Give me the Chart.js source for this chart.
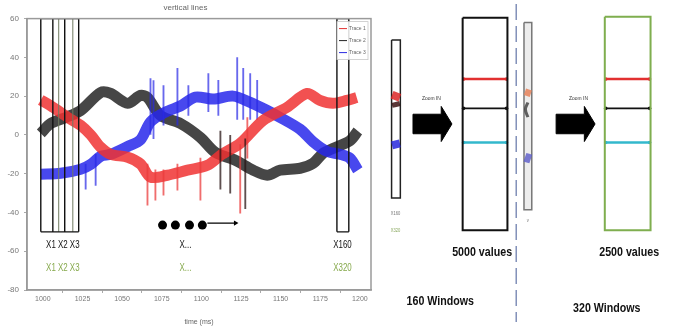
<!DOCTYPE html>
<html>
<head>
<meta charset="utf-8">
<script src="https://cdn.jsdelivr.net/npm/chart.js@4/dist/chart.umd.min.js"></script>
<style>
  html, body { margin: 0; padding: 0; background: #fff; }
  body { width: 675px; height: 326px; position: relative; overflow: hidden; }
  #mainChart { position: absolute; left: 0; top: 0; }
  #zoomChart { position: absolute; left: 372px; top: 0; }
</style>
</head>
<body>
<canvas id="mainChart" width="380" height="326"></canvas>
<canvas id="zoomChart" width="303" height="326"></canvas>
<script>
// Axis ticks
const xTicks = [1000, 1025, 1050, 1075, 1100, 1125, 1150, 1175, 1200];
const xTickLabels = ['1000', '1025', '1050', '1075', '1100', '1125', '1150', '1175', '1200'];
const yTicks = [60, 40, 20, 0, -20, -40, -60, -80];
const traceNames = ['Trace 1', 'Trace 2', 'Trace 3'];

// Trace centre lines: [time, amplitude]
const redTrace = [
    [998.7, 18], [1005, 15], [1011.3, 11.6], [1017.6, 8], [1023.9, 4.9], [1030.2, 0],
    [1036.5, -6.4], [1042.8, -10], [1053.5, -11.5], [1061.6, -15], [1067.9, -21.8],
    [1078.6, -20.8], [1091.2, -18.2], [1103.8, -15.7], [1113, -10], [1124.5, -4.3],
    [1139, 7.5], [1154, 14.2], [1166.7, 21.4], [1174.8, 17.8], [1183, 16.3],
    [1191.8, 17.8], [1198, 19.3]
];
const blackTrace = [
    [998.7, 0.8], [1005, 5.9], [1014.5, 9], [1023.9, 12.6], [1036.5, 21.9], [1042.8, 21.4],
    [1053.5, 16.3], [1061.6, 20.4], [1066, 19.3], [1074.2, 10], [1086.8, 5.9],
    [1099.4, -1.3], [1108.8, -9], [1121.4, -13.1], [1132.7, -18.2], [1141.5, -20.8],
    [1149.7, -18.2], [1162.3, -17.2], [1170.4, -14.7], [1176.7, -9.5], [1183, -7],
    [1193.7, -3], [1198.7, 2]
];
const blueTrace = [
    [998.7, -20.3], [1011.3, -19.8], [1023.9, -17.7], [1030.2, -15.2], [1036.5, -11],
    [1042.8, -10], [1053.5, -6], [1061.6, -2.5], [1067.9, 6.7], [1077.4, 11.8],
    [1086.8, 14.9], [1096.2, 19.5], [1107.5, 18.5], [1120.1, 20], [1130.8, 16.8],
    [1140.3, 13.1], [1149.7, 9], [1162.3, 2.9], [1170.4, -3.5], [1179.2, -8.5],
    [1187.4, -10], [1193.7, -12], [1198.7, -18.2]
];

// Noise spikes: [time, low, high]
const blueSpikes = [
    [1027, -28, -15], [1033.3, -26, -10], [1067.9, 0, 29.1], [1069.8, -2, 28],
    [1076.1, 5, 25.5], [1084.9, 5, 34.3], [1091.8, 10, 25.5], [1104.4, 12, 31.7],
    [1110.7, 10, 28.1], [1122.6, 8, 39.9], [1126.4, 8, 34.3], [1130.8, 8, 31.7],
    [1135.2, 8, 28.1]
];
const redSpikes = [
    [1066, -36.2, -15], [1071, -33.7, -18], [1076.1, -31.1, -18], [1084.9, -28.5, -15],
    [1099.4, -33.7, -12], [1124.5, -40.4, -5], [1129, -12, 9]
];
const blackSpikes = [
    [1112, -28, 2], [1118.2, -30, 0], [1127.7, -38, -2]
];

// Windows drawn on the trace plot
const windowTop = 60;
const windowBottom = -50;
const firstWindowEdges = [998.7, 1006.3, 1013.8, 1022.6];
const overlapEdges = [1010, 1018.9];
const lastWindowEdges = [1185.5, 1193];
const dotTimes = [1075.5, 1083.6, 1092.5, 1100.6];
const dotLevel = -46.5;
const arrowTimes = [1103.8, 1121.5];

const windowNotes = [
    { text: 'X1 X2 X3', x: 1012.6, y: -57, color: '#111' },
    { text: 'X...', x: 1090, y: -57, color: '#111' },
    { text: 'X160', x: 1189, y: -57, color: '#111' },
    { text: 'X1 X2 X3', x: 1012.6, y: -68.7, color: '#86a94c' },
    { text: 'X...', x: 1090, y: -68.7, color: '#86a94c' },
    { text: 'X320', x: 1189, y: -68.7, color: '#86a94c' }
];

// Zoom diagram (page pixel coordinates), [x1, y1, x2, y2]
const stripBoxes = [[388, 37, 397, 199], [524, 19, 532, 211]];
const valueBoxes = [[461, 14, 507, 232], [607, 13, 654, 232]];
const valueBoxColors = ['#111111', '#7fae4f'];
const levelRows = [77, 107, 142];
const levelColors = ['#e23030', '#111111', '#33b8cc'];
const arrowStarts = [410, 557];
const arrowCentre = 123;
const separatorX = 516;

const diagramNotes = [
    { text: 'Zoom IN', x: 429, y: 97, size: 6, color: '#333', bold: false },
    { text: 'Zoom IN', x: 580, y: 97, size: 6, color: '#333', bold: false },
    { text: '5000 values', x: 481, y: 255, size: 13, color: '#111', bold: true },
    { text: '2500 values', x: 632, y: 255, size: 13, color: '#111', bold: true },
    { text: '160 Windows', x: 438, y: 305, size: 13, color: '#111', bold: true },
    { text: '320 Windows', x: 609, y: 312, size: 13, color: '#111', bold: true },
    { text: 'X160', x: 392, y: 215, size: 5, color: '#777', bold: false },
    { text: 'X320', x: 392, y: 232, size: 5, color: '#8aa860', bold: false },
    { text: 'v', x: 528, y: 222, size: 5, color: '#777', bold: false }
];

const FONT = "'Liberation Sans', 'DejaVu Sans', sans-serif";

// squeezed text, the figure uses a narrow face
function narrowText(ctx, text, x, y, squeeze) {
    ctx.save();
    ctx.translate(x, y);
    ctx.scale(squeeze, 1);
    ctx.fillText(text, 0, 0);
    ctx.restore();
}

function toPoints(list) {
    return list.map(p => ({ x: p[0], y: p[1] }));
}

function spikeBars(list) {
    return list.map(s => ({ x: s[0], y: [s[1], s[2]] }));
}

// vertical segments broken by gaps
function edgeLines(edges, closeBox) {
    const pts = [];
    edges.forEach(x => {
        pts.push({ x, y: windowBottom }, { x, y: windowTop }, { x, y: null });
    });
    if (closeBox) {
        const a = edges[0], b = edges[edges.length - 1];
        pts.push({ x: a, y: windowTop }, { x: b, y: windowTop }, { x: b, y: null });
        pts.push({ x: a, y: windowBottom }, { x: b, y: windowBottom });
    }
    return pts;
}

const framePlugin = {
    id: 'frame',
    afterDatasetsDraw(chart) {
        const { ctx, chartArea: a, scales } = chart;
        ctx.save();
        ctx.strokeStyle = '#9a9a9a';
        ctx.lineWidth = 1.5;
        ctx.strokeRect(a.left, a.top, a.right - a.left, a.bottom - a.top);

        // legend inside the top right corner
        const lx = a.right - 34, ly = a.top + 3;
        ctx.fillStyle = 'rgba(255,255,255,0.85)';
        ctx.fillRect(lx, ly, 31, 38);
        ctx.strokeStyle = '#c8c8c8';
        ctx.lineWidth = 0.8;
        ctx.strokeRect(lx, ly, 31, 38);
        const legendColors = ['#e23030', '#222', '#2a2ae0'];
        ctx.font = '5px ' + FONT;
        ctx.textBaseline = 'middle';
        traceNames.forEach((name, i) => {
            const y = ly + 7 + i * 12;
            ctx.strokeStyle = legendColors[i];
            ctx.lineWidth = 1;
            ctx.beginPath();
            ctx.moveTo(lx + 2, y);
            ctx.lineTo(lx + 10, y);
            ctx.stroke();
            ctx.fillStyle = '#666';
            ctx.fillText(name, lx + 12, y);
        });

        // window labels
        ctx.textAlign = 'center';
        ctx.font = '11px ' + FONT;
        windowNotes.forEach(n => {
            ctx.fillStyle = n.color;
            narrowText(ctx, n.text, scales.x.getPixelForValue(n.x), scales.y.getPixelForValue(n.y), 0.72);
        });
        ctx.restore();
    }
};

const bandWidth = 11;

new Chart(document.getElementById('mainChart'), {
    type: 'scatter',
    data: {
        datasets: [
            {
                label: 'first windows',
                data: edgeLines(firstWindowEdges, true),
                showLine: true, borderColor: '#111', borderWidth: 1.4,
                pointRadius: 0, spanGaps: false, order: 0
            },
            {
                label: 'overlap windows',
                data: edgeLines(overlapEdges, false),
                showLine: true, borderColor: '#6f7a60', borderWidth: 1,
                pointRadius: 0, spanGaps: false, order: 0
            },
            {
                label: 'last window',
                data: edgeLines(lastWindowEdges, true),
                showLine: true, borderColor: '#111', borderWidth: 1.4,
                pointRadius: 0, spanGaps: false, order: 0
            },
            {
                label: 'dots',
                data: dotTimes.map(x => ({ x, y: dotLevel })),
                pointRadius: 4.5, pointBackgroundColor: '#000', pointBorderWidth: 0, order: 0
            },
            {
                label: 'arrow',
                data: arrowTimes.map(x => ({ x, y: dotLevel + 1 })),
                showLine: true, borderColor: '#000', borderWidth: 1.2,
                pointRadius: [0, 3], pointStyle: 'triangle', pointRotation: 90,
                pointBackgroundColor: '#000', pointBorderWidth: 0, order: 0
            },
            {
                type: 'bar', label: 'red spikes', data: spikeBars(redSpikes),
                backgroundColor: 'rgba(235,60,60,0.75)', barThickness: 1.2, grouped: false, order: 1
            },
            {
                type: 'bar', label: 'black spikes', data: spikeBars(blackSpikes),
                backgroundColor: 'rgba(40,20,20,0.75)', barThickness: 1.2, grouped: false, order: 1
            },
            {
                type: 'bar', label: 'blue spikes', data: spikeBars(blueSpikes),
                backgroundColor: 'rgba(40,40,230,0.7)', barThickness: 1.2, grouped: false, order: 3
            },
            {
                label: traceNames[0], data: toPoints(redTrace), showLine: true,
                borderColor: 'rgba(240,50,50,0.85)', borderWidth: bandWidth, tension: 0.3,
                pointRadius: 0, order: 2
            },
            {
                label: traceNames[2], data: toPoints(blueTrace), showLine: true,
                borderColor: 'rgba(40,40,235,0.85)', borderWidth: bandWidth, tension: 0.3,
                pointRadius: 0, order: 4
            },
            {
                label: traceNames[1], data: toPoints(blackTrace), showLine: true,
                borderColor: 'rgba(50,50,50,0.9)', borderWidth: bandWidth, tension: 0.3,
                pointRadius: 0, order: 5
            }
        ]
    },
    options: {
        responsive: false,
        animation: false,
        layout: { padding: { left: 0, right: 9, top: 0, bottom: 0 } },
        plugins: {
            legend: { display: false },
            tooltip: { enabled: false },
            title: {
                display: true,
                text: 'vertical lines',
                color: '#666',
                font: { size: 8, family: FONT, weight: 'normal' },
                padding: { top: 3, bottom: 6 }
            }
        },
        scales: {
            x: {
                type: 'linear',
                min: 990,
                max: 1207,
                offset: false,
                afterBuildTicks: scale => { scale.ticks = xTicks.map(v => ({ value: v })); },
                afterFit: scale => { scale.height = 36; },
                ticks: {
                    callback: (value, index) => xTickLabels[index],
                    color: '#777',
                    font: { size: 7, family: FONT },
                    maxRotation: 0,
                    autoSkip: false,
                    padding: 2
                },
                title: {
                    display: true,
                    text: 'time (ms)',
                    color: '#666',
                    font: { size: 7, family: FONT },
                    padding: { top: 2, bottom: 0 }
                },
                grid: { drawOnChartArea: false, tickLength: 3, color: '#aaa' },
                border: { color: '#9a9a9a', width: 1.5 }
            },
            y: {
                min: -80,
                max: 60,
                afterBuildTicks: scale => { scale.ticks = yTicks.map(v => ({ value: v })); },
                afterFit: scale => { scale.width = 27; },
                ticks: {
                    color: '#777',
                    font: { size: 8, family: FONT },
                    padding: 5
                },
                grid: { drawOnChartArea: false, tickLength: 3, color: '#aaa' },
                border: { color: '#9a9a9a', width: 1.5 }
            }
        }
    },
    plugins: [framePlugin]
});

// ---------- zoom diagram ----------
function rectPoints(r) {
    return [
        { x: r[0], y: r[1] }, { x: r[2], y: r[1] }, { x: r[2], y: r[3] },
        { x: r[0], y: r[3] }, { x: r[0], y: r[1] }
    ];
}

function arrowPoints(x0) {
    const c = arrowCentre;
    return [
        { x: x0, y: c - 10 }, { x: x0 + 29, y: c - 10 }, { x: x0 + 29, y: c - 18 },
        { x: x0 + 40, y: c }, { x: x0 + 29, y: c + 18 }, { x: x0 + 29, y: c + 10 },
        { x: x0, y: c + 10 }, { x: x0, y: c - 10 }
    ];
}

const base = { showLine: true, pointRadius: 0, borderWidth: 1.5, clip: false, order: 1 };
const zoomSets = [];

// strips taken out of the trace plot (drawn underneath everything)
zoomSets.push({ ...base, data: rectPoints(stripBoxes[0]), borderColor: '#222', order: 9 });
zoomSets.push({
    ...base, data: rectPoints(stripBoxes[1]), borderColor: '#777',
    fill: 'shape', backgroundColor: '#ececec', order: 9
});
// blobs inside the strips
const stripBlobs = [
    { pts: [[388.5, 93], [396.5, 96]], color: 'rgba(220,40,40,0.85)', w: 8 },
    { pts: [[388.5, 104], [396.5, 102]], color: 'rgba(60,20,20,0.85)', w: 5 },
    { pts: [[388.5, 145], [396.5, 143]], color: 'rgba(40,40,220,0.85)', w: 8 },
    { pts: [[525, 90], [531, 92]], color: 'rgba(230,130,90,0.85)', w: 7 },
    { pts: [[528, 101], [525.5, 108], [528, 116]], color: 'rgba(60,60,60,0.8)', w: 3 },
    { pts: [[525, 157], [531, 159]], color: 'rgba(90,90,200,0.8)', w: 9 }
];
stripBlobs.forEach(b => {
    zoomSets.push({
        ...base, data: toPoints(b.pts), borderColor: b.color,
        borderWidth: b.w, tension: 0.4, order: 0
    });
});

// big windows with their level lines
valueBoxes.forEach((r, i) => {
    zoomSets.push({ ...base, data: rectPoints(r), borderColor: valueBoxColors[i], borderWidth: 2 });
    levelRows.forEach((y, j) => {
        zoomSets.push({
            ...base,
            data: [{ x: r[0] + 1, y }, { x: r[2] - 1, y }],
            borderColor: levelColors[j],
            borderWidth: j === 1 ? 1.8 : 2.5,
            pointRadius: 1.8,
            pointBackgroundColor: levelColors[j],
            pointBorderWidth: 0
        });
    });
});

// arrows
arrowStarts.forEach(x0 => {
    zoomSets.push({
        ...base, data: arrowPoints(x0), borderColor: '#000', borderWidth: 1,
        fill: 'shape', backgroundColor: '#000'
    });
});

// dashed separator
zoomSets.push({
    ...base, data: [{ x: separatorX, y: 0 }, { x: separatorX, y: 326 }],
    borderColor: '#6f7fae', borderWidth: 1.3, borderDash: [16, 6]
});

const notesPlugin = {
    id: 'notes',
    afterDatasetsDraw(chart) {
        const { ctx, scales } = chart;
        ctx.save();
        ctx.textAlign = 'center';
        ctx.textBaseline = 'middle';
        diagramNotes.forEach(n => {
            ctx.font = (n.bold ? 'bold ' : '') + n.size + 'px ' + FONT;
            ctx.fillStyle = n.color;
            narrowText(ctx, n.text, scales.x.getPixelForValue(n.x), scales.y.getPixelForValue(n.y), 0.82);
        });
        ctx.restore();
    }
};

new Chart(document.getElementById('zoomChart'), {
    type: 'scatter',
    data: { datasets: zoomSets },
    options: {
        responsive: false,
        animation: false,
        layout: { padding: 0 },
        plugins: { legend: { display: false }, tooltip: { enabled: false } },
        scales: {
            x: { type: 'linear', min: 372, max: 675, display: false },
            y: { type: 'linear', min: 0, max: 326, reverse: true, display: false }
        }
    },
    plugins: [notesPlugin]
});
</script>
</body>
</html>
